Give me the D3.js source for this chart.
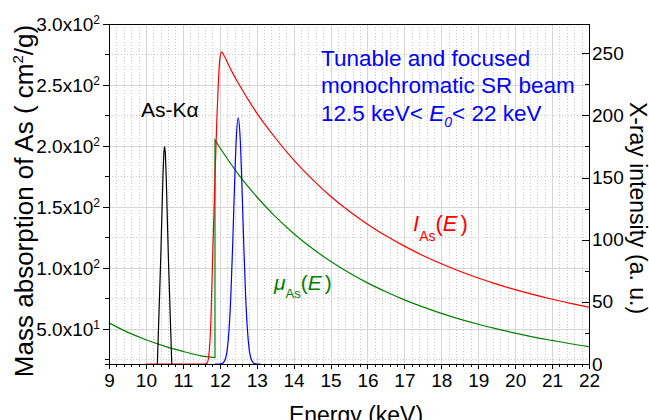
<!DOCTYPE html>
<html>
<head>
<meta charset="utf-8">
<script src="https://cdn.jsdelivr.net/npm/d3@7/dist/d3.min.js"></script>
<style>
  body { margin: 0; background: #fff; }
  svg { font-family: "Liberation Sans", Arial, sans-serif; }
  .axis path, .axis line { stroke: #000; shape-rendering: crispEdges; }
  .axis text { fill: #000; }
  .grid path { stroke: none; }
  .grid.major line { stroke: #d6d6d6; shape-rendering: crispEdges; }
  .grid.minor line { stroke: #c8c8c8; stroke-dasharray: 1,2; shape-rendering: crispEdges; }
  .curve { fill: none; stroke-width: 1.2; }
</style>
</head>
<body>
<svg id="chart" width="649" height="420"></svg>
<script>
// mass absorption of As (left axis), below and above the K edge
var energyMuLow = [9.0, 9.5, 10.0, 10.5, 11.0, 11.5, 11.87];
var muLow = [55.0, 47.4, 41.2, 36.0, 31.7, 28.0, 26.5];
var energyMuHigh = [11.87, 12.0, 12.5, 13.0, 13.5, 14.0, 14.5, 15.0, 15.5, 16.0, 16.5, 17.0, 17.5, 18.0, 18.5, 19.0, 19.5, 20.0, 20.5, 21.0, 21.5, 22.0];
var muHigh = [205, 198.8, 177.0, 158.4, 142.3, 128.3, 116.1, 105.5, 96.1, 87.8, 80.5, 73.9, 68.1, 62.8, 58.1, 53.9, 50.1, 46.6, 43.4, 40.6, 37.9, 35.5];

// I_As(E) intensity (right axis)
var energyI = [10.0, 11.6, 11.66, 11.7, 11.76, 11.81, 11.86, 11.92, 11.96, 12.0, 12.05, 12.1, 12.2, 12.35, 12.5, 13.0, 13.5, 14.0, 14.5, 15.0, 15.5, 16.0, 16.5, 17.0, 17.5, 18.0, 18.5, 19.0, 19.5, 20.0, 20.5, 21.0, 21.5, 22.0];
var intensityI = [0, 0, 1, 6, 35, 89, 140, 196, 225, 245, 251, 249, 243, 234, 226, 202, 182, 164.2, 148.7, 135.0, 123.1, 112.5, 103.1, 94.8, 87.3, 80.6, 74.6, 69.2, 64.3, 59.8, 55.8, 52.1, 48.8, 45.7];

// monochromatic beam peak (right axis)
var energyBeam = [11.87, 12.0, 12.05, 12.1, 12.15, 12.2, 12.25, 12.3, 12.35, 12.4, 12.45, 12.5, 12.55, 12.6, 12.65, 12.7, 12.75, 12.8, 12.85, 12.9, 12.95, 13.0, 13.1];
var intensityBeam = [0, 0, 0.3, 1.2, 4, 11, 27, 55, 96, 144, 183, 198, 183, 144, 96, 55, 27, 11, 4, 1.2, 0.3, 0, 0];

// As-K alpha line (right axis)
var energyKa = [10.31, 10.4, 10.46, 10.485, 10.505, 10.525, 10.55, 10.61, 10.70];
var intensityKa = [0, 84, 150, 170, 175, 170, 150, 84, 0];

var xTicks = [9, 10, 11, 12, 13, 14, 15, 16, 17, 18, 19, 20, 21, 22];
var leftTicks = [50, 100, 150, 200, 250, 300];
var leftTickMant = ["5.0", "1.0", "1.5", "2.0", "2.5", "3.0"];
var leftTickExp = ["1", "2", "2", "2", "2", "2"];
var rightTicks = [0, 50, 100, 150, 200, 250];

var pL = 109, pR = 589, pT = 24, pB = 364;
var fontFam = "'Liberation Sans', Arial, sans-serif";

var x = d3.scaleLinear().domain([9, 22]).range([pL, pR]);
var yL = d3.scaleLinear().domain([21.3, 300]).range([pB, pT]);
var yR = d3.scaleLinear().domain([0, 273.5]).range([pB, pT]);

var svg = d3.select("#chart");

var xMinor = d3.range(9, 22.001, 0.2).filter(function (v) { return Math.abs(v - Math.round(v)) > 0.01; });
var yMinor = d3.range(25, 300, 50);

// grid
svg.append("g").attr("class", "grid minor")
    .attr("transform", "translate(0," + pB + ")")
    .call(d3.axisBottom(x).tickValues(xMinor).tickSize(-(pB - pT)).tickFormat(""));
svg.append("g").attr("class", "grid minor")
    .attr("transform", "translate(" + pL + ",0)")
    .call(d3.axisLeft(yL).tickValues(yMinor).tickSize(-(pR - pL)).tickFormat(""));
svg.append("g").attr("class", "grid major")
    .attr("transform", "translate(0," + pB + ")")
    .call(d3.axisBottom(x).tickValues(xTicks.slice(1, -1)).tickSize(-(pB - pT)).tickFormat(""));
svg.append("g").attr("class", "grid major")
    .attr("transform", "translate(" + pL + ",0)")
    .call(d3.axisLeft(yL).tickValues(leftTicks.slice(0, -1)).tickSize(-(pR - pL)).tickFormat(""));
svg.selectAll(".grid path").remove();

// curves
var lineR = d3.line().x(function (d) { return x(d[0]); }).y(function (d) { return yR(d[1]); });
var smoothL = d3.line().curve(d3.curveMonotoneX).x(function (d) { return x(d[0]); }).y(function (d) { return yL(d[1]); });
var smoothR = d3.line().curve(d3.curveMonotoneX).x(function (d) { return x(d[0]); }).y(function (d) { return yR(d[1]); });

var muA = d3.zip(energyMuLow, muLow), muB = d3.zip(energyMuHigh, muHigh);
svg.append("path").attr("class", "curve").attr("stroke", "#008000")
    .attr("d", smoothL(muA) + smoothL(muB).replace(/^M/, "L"));

svg.append("path").attr("class", "curve").attr("stroke", "#ff0000")
    .attr("d", smoothR(d3.zip(energyI, intensityI)));

svg.append("path").attr("class", "curve").attr("stroke", "#0000ff")
    .attr("d", smoothR(d3.zip(energyBeam, intensityBeam)));

svg.append("path").attr("class", "curve").attr("stroke", "#000")
    .attr("d", lineR(d3.zip(energyKa, intensityKa)));

// frame top
svg.append("line").attr("x1", pL).attr("x2", pR).attr("y1", pT).attr("y2", pT)
    .attr("stroke", "#000").attr("shape-rendering", "crispEdges");

// x axis
svg.append("g").attr("class", "axis")
    .attr("transform", "translate(0," + pB + ")")
    .call(d3.axisBottom(x).tickValues(xMinor).tickSize(3).tickFormat(""));
svg.append("g").attr("class", "axis")
    .attr("transform", "translate(0," + pB + ")")
    .call(d3.axisBottom(x).tickValues(xTicks).tickSize(5).tickSizeOuter(0).tickPadding(5).tickFormat(d3.format("d")))
    .attr("font-size", 19).attr("font-family", fontFam);

// left axis
svg.append("g").attr("class", "axis")
    .attr("transform", "translate(" + pL + ",0)")
    .call(d3.axisLeft(yL).tickValues(yMinor).tickSize(4).tickFormat(""));
var gL = svg.append("g").attr("class", "axis")
    .attr("transform", "translate(" + pL + ",0)")
    .call(d3.axisLeft(yL).tickValues(leftTicks).tickSize(6).tickSizeOuter(0).tickPadding(3))
    .attr("font-size", 19).attr("font-family", fontFam);
gL.selectAll(".tick text").each(function (d, i) {
    var t = d3.select(this).text(leftTickMant[i] + "x10");
    t.append("tspan").attr("font-size", "12px").attr("dy", "-7").text(leftTickExp[i]);
});

// right axis
svg.append("g").attr("class", "axis")
    .attr("transform", "translate(" + pR + ",0)")
    .call(d3.axisRight(yR).tickValues(d3.range(25, 273, 50)).tickSize(-4).tickFormat(""));
svg.append("g").attr("class", "axis")
    .attr("transform", "translate(" + pR + ",0)")
    .call(d3.axisRight(yR).tickValues(rightTicks).tickSize(-7).tickSizeOuter(0).tickPadding(3))
    .attr("font-size", 19).attr("font-family", fontFam);

// axis titles
svg.append("text").attr("transform", "translate(356,423)")
    .attr("text-anchor", "middle").attr("font-size", "23px").text("Energy (keV)");

var tl = svg.append("text").attr("transform", "translate(33,201) rotate(-90)")
    .attr("text-anchor", "middle").attr("font-size", "26px");
tl.append("tspan").text("Mass absorption of As ( cm");
tl.append("tspan").attr("font-size", "15px").attr("dy", "-10").text("2");
tl.append("tspan").attr("dy", "10").text("/g)");

svg.append("text").attr("transform", "translate(630,208) rotate(90)")
    .attr("text-anchor", "middle").attr("font-size", "23px").text("X-ray intensity (a. u.)");

// annotations
svg.append("text").attr("x", 141).attr("y", 117).attr("font-size", "21px").text("As-K\u03b1");

var blue = svg.append("g").attr("fill", "#0000ff").attr("font-size", "22.5px");
blue.append("text").attr("x", 321).attr("y", 66).text("Tunable and focused");
blue.append("text").attr("x", 321).attr("y", 93).text("monochromatic SR beam");
var b3 = blue.append("text").attr("x", 321).attr("y", 121);
b3.append("tspan").text("12.5 keV< ");
b3.append("tspan").attr("font-style", "italic").text("E");
b3.append("tspan").attr("font-style", "italic").attr("font-size", "14px").attr("dy", "6").text("0");
b3.append("tspan").attr("dy", "-6").text("< 22 keV");

var ti = svg.append("text").attr("x", 413).attr("y", 231).attr("fill", "#ff0000").attr("font-size", "22px");
ti.append("tspan").attr("font-style", "italic").text("I");
ti.append("tspan").attr("font-size", "14px").attr("dy", "10").text("As");
ti.append("tspan").attr("dy", "-10").text("(");
ti.append("tspan").attr("font-style", "italic").text("E");
ti.append("tspan").attr("dx", "3").text(")");

var tm = svg.append("text").attr("x", 274).attr("y", 290).attr("fill", "#008000").attr("font-size", "21px");
tm.append("tspan").attr("font-style", "italic").text("\u03bc");
tm.append("tspan").attr("font-size", "13px").attr("dy", "8").text("As");
tm.append("tspan").attr("dy", "-8").text("(");
tm.append("tspan").attr("font-style", "italic").text("E");
tm.append("tspan").attr("dx", "3").text(")");
</script>
</body>
</html>
